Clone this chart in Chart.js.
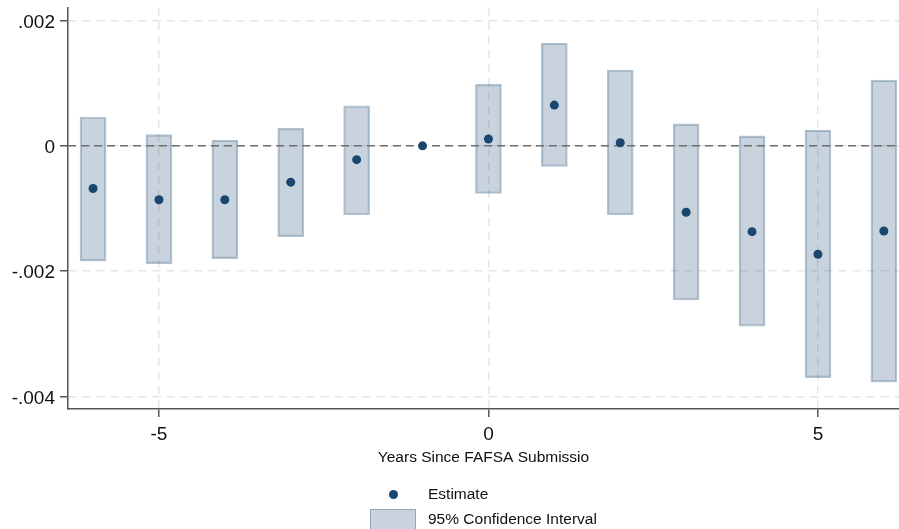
<!DOCTYPE html>
<html>
<head>
<meta charset="utf-8">
<title>Event study: Years Since FAFSA Submission</title>
<script src="https://cdn.jsdelivr.net/npm/chart.js@4/dist/chart.umd.min.js"></script>
<style>
  html, body { margin: 0; padding: 0; background: #ffffff; }
  #wrap { position: relative; width: 899px; height: 529px; overflow: hidden; font-family: "Liberation Sans", Arial, sans-serif; }
  #chart { position: absolute; left: 0; top: 0; }
  .leg-text { position: absolute; left: 428px; font-size: 15.5px; color: #111; line-height: 18px; white-space: nowrap; }
  .leg-dot { position: absolute; width: 9px; height: 9px; border-radius: 50%; background: #1a476f; }
  .leg-box { position: absolute; box-sizing: border-box; background: rgba(26,71,111,0.24); border: 1.5px solid rgba(26,71,111,0.32); }
</style>
</head>
<body>
<div id="wrap">
  <canvas id="chart" width="899" height="529"></canvas>
  <div class="leg-dot" style="left:388.5px; top:489.5px;"></div>
  <div class="leg-text" style="top:485px;">Estimate</div>
  <div class="leg-box" style="left:370px; top:509px; width:46px; height:22px;"></div>
  <div class="leg-text" style="top:510px;">95% Confidence Interval</div>
</div>
<script>
// Event-time coefficients relative to the year before submission (t = -1 is the omitted base year)
const years      = [-6, -5, -4, -3, -2, -1, 0, 1, 2, 3, 4, 5, 6];
const estimates  = [-0.00068, -0.00086, -0.00086, -0.00058, -0.00022, 0, 0.00011, 0.00065, 0.00005, -0.00106, -0.00137, -0.00173, -0.00136];
const ciLower    = [-0.00184, -0.00188, -0.00180, -0.00145, -0.00110, null, -0.00076, -0.00033, -0.00110, -0.00246, -0.00288, -0.00370, -0.00377];
const ciUpper    = [0.00046, 0.00018, 0.00009, 0.00028, 0.00064, null, 0.00098, 0.00164, 0.00121, 0.00035, 0.00016, 0.00025, 0.00105];

const xTickValues = [-5, 0, 5];
const xTickLabels = ['-5', '0', '5'];
const yTickValues = [0.002, 0, -0.002, -0.004];
const yTickLabels = ['.002', '0', '-.002', '-.004'];

const xRange = [-6.38, 6.23];
const yRange = [-0.0042, 0.0022];
const referenceValue = 0;

const navy = '#1a476f';
const ciFill = 'rgba(26,71,111,0.24)';
const ciBorder = 'rgba(26,71,111,0.32)';
const axisColor = '#555555';
const gridColor = '#e6e6e6';
const FONT = '"Liberation Sans", Arial, sans-serif';

const estimatePoints = years.map((yr, i) => ({ x: yr, y: estimates[i] }));
const ciBars = years
  .map((yr, i) => ({ x: yr, y: [ciLower[i], ciUpper[i]] }))
  .filter(d => d.y[0] !== null && d.y[1] !== null);
const referencePoints = xRange.map(v => ({ x: v, y: referenceValue }));

function labelFor(values, labels) {
  return (v) => {
    const k = values.findIndex(t => Math.abs(t - v) < 1e-9);
    return k >= 0 ? labels[k] : '';
  };
}

new Chart(document.getElementById('chart'), {
  type: 'bar',
  data: {
    datasets: [
      {
        type: 'scatter',
        label: 'Estimate',
        data: estimatePoints,
        pointRadius: 4.5,
        pointHoverRadius: 4.5,
        pointBackgroundColor: navy,
        pointBorderWidth: 0
      },
      {
        type: 'line',
        label: 'zero',
        data: referencePoints,
        borderColor: '#6e6e6e',
        borderWidth: 1.5,
        borderDash: [8, 5],
        pointRadius: 0,
        fill: false
      },
      {
        type: 'bar',
        label: '95% Confidence Interval',
        data: ciBars,
        backgroundColor: ciFill,
        borderColor: ciBorder,
        borderWidth: 1.5,
        borderSkipped: false,
        barThickness: 26,
        grouped: false
      }
    ]
  },
  options: {
    responsive: false,
    animation: false,
    events: [],
    layout: { autoPadding: false, padding: { top: 8, right: 0, bottom: 62, left: 0 } },
    plugins: {
      legend: { display: false },
      tooltip: { enabled: false }
    },
    scales: {
      x: {
        type: 'linear',
        min: xRange[0],
        max: xRange[1],
        offset: false,
        afterBuildTicks: (s) => { s.ticks = xTickValues.map(v => ({ value: v })); },
        afterFit: (s) => { s.height = 58; s.paddingLeft = 0; s.paddingRight = 0; },
        ticks: {
          callback: labelFor(xTickValues, xTickLabels),
          color: '#111',
          font: { family: FONT, size: 19 },
          padding: 6,
          maxRotation: 0
        },
        grid: {
          offset: false,
          color: gridColor,
          lineWidth: 1.5,
          tickColor: axisColor,
          tickWidth: 1.5,
          tickLength: 8,
          tickBorderDash: []
        },
        border: { color: axisColor, width: 1.5, dash: [8, 6] },
        title: {
          display: true,
          text: 'Years Since FAFSA Submissio',
          color: '#111',
          font: { family: FONT, size: 15.5 },
          padding: { top: 0, bottom: 0 }
        }
      },
      y: {
        type: 'linear',
        min: yRange[0],
        max: yRange[1],
        afterBuildTicks: (s) => { s.ticks = yTickValues.map(v => ({ value: v })); },
        afterFit: (s) => { s.width = 68; s.paddingTop = 0; s.paddingBottom = 0; },
        ticks: {
          callback: labelFor(yTickValues, yTickLabels),
          color: '#111',
          font: { family: FONT, size: 19 },
          padding: 5,
          labelOffset: 2
        },
        grid: {
          color: gridColor,
          lineWidth: 1.5,
          tickColor: axisColor,
          tickWidth: 1.5,
          tickLength: 8,
          tickBorderDash: []
        },
        border: { color: axisColor, width: 1.5, dash: [8, 6] }
      }
    }
  }
});
</script>
</body>
</html>
